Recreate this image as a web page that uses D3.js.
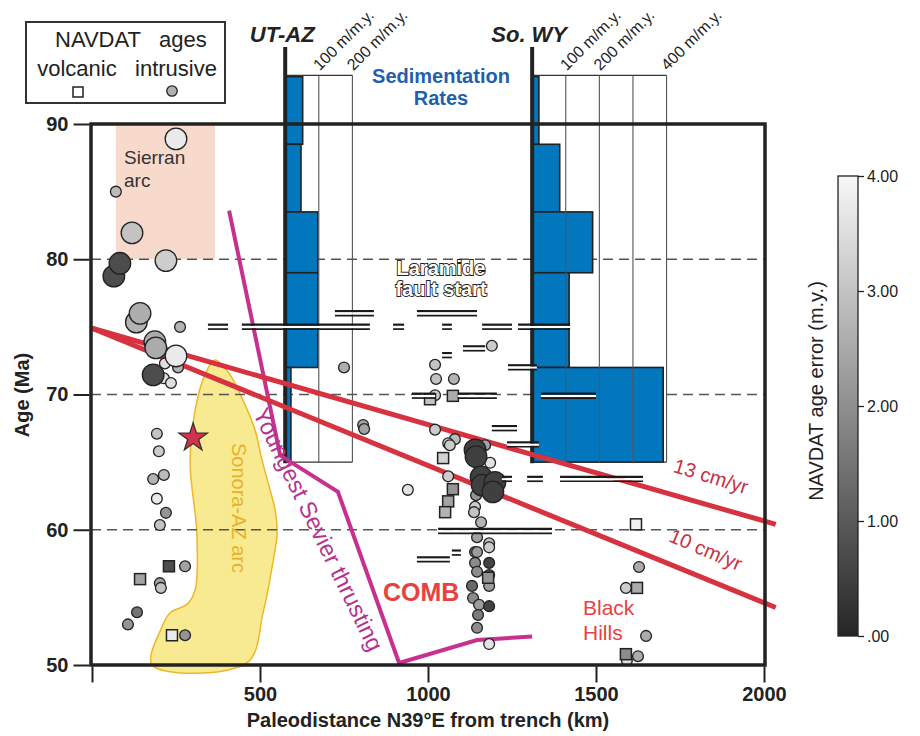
<!DOCTYPE html>
<html>
<head>
<meta charset="utf-8">
<script src="https://cdn.jsdelivr.net/npm/d3@7/dist/d3.min.js"></script>
<style>
  body { margin: 0; background: #fff; }
  svg { font-family: "Liberation Sans", Arial, Helvetica, sans-serif; }
</style>
</head>
<body>
<svg id="chart" width="920" height="736"></svg>
<script>
/* Laramide arc migration: NAVDAT ages vs paleodistance, with sedimentation rates */

// axis ticks
var ageTicks = [50, 60, 70, 80, 90];
var kmTicks = [0, 500, 1000, 1500, 2000];
var errTicks = [0, 1, 2, 3, 4];
var gridAges = [60, 70, 80];

// NAVDAT samples (v = volcanic, i = intrusive)
var ptType = ["i","i","i","i","i","i","i","i","i","i","i","i","i","i","i","i","i","i",
  "i","i","i","i","i","i","i","v","i","v","i","i","i","i","v","i","i","i",
  "i","i","i","i","i","v","v","i","i","i","i","i","i","i","v","i","i","i","i","i","i","i",
  "v","v","v","i","i","i","i","i","i","i","i","i","i","i","i","i","v","i","i","i","i","i","i","i","i",
  "v","i","i","v","i","i","v","i"];
var ptKm = [250,71,119,65,83,220,132,143,262,187,190,250,217,256,182,214,235,750,
  193,199,214,182,193,220,202,229,277,143,202,205,134,107,238,277,807,810,
  1190,1021,1024,1077,1021,1006,1074,1021,1080,1060,1065,1170,1140,1143,1045,1185,1060,1158,1161,1199,1193,940,
  1074,1060,1051,1143,1140,1137,1158,1146,1182,1182,1140,1146,1140,1182,1146,1182,1179,1182,1131,1134,1152,1182,1149,1146,1182,
  1619,1628,1589,1622,1649,1592,1589,1625];
var ptAge = [88.9,85.0,81.95,78.75,79.7,79.9,75.35,76.0,75.0,73.9,73.45,72.85,72.3,72.0,71.45,71.2,70.85,72.0,
  67.1,65.8,64.05,63.75,62.3,61.25,60.35,57.3,57.3,56.35,56.05,55.7,53.9,53.0,52.2,52.2,67.75,67.45,
  73.6,72.2,71.15,71.15,69.95,69.65,69.9,67.4,66.7,66.4,66.25,66.25,65.9,65.4,65.3,64.95,63.95,63.9,63.3,63.5,62.8,62.95,
  63.0,62.1,61.3,62.55,61.7,61.3,60.55,59.45,59.0,58.7,58.35,58.35,57.55,57.55,56.9,56.65,56.45,55.85,55.85,54.95,54.45,54.35,53.7,52.75,51.55,
  60.4,57.25,55.7,55.7,52.15,50.35,50.8,50.65];
var ptErr = [3.75,2.85,3.0,0.75,0.75,3.2,2.7,2.6,2.7,2.55,2.55,3.75,3.55,2.7,0.75,3.55,3.55,2.6,
  3.0,3.15,2.85,2.7,3.75,2.1,3.0,0.75,2.4,2.4,2.4,3.0,1.5,2.1,3.75,2.1,2.4,2.4,
  3.15,3.0,3.0,2.7,3.15,3.0,2.55,3.15,2.85,3.2,3.15,2.4,0.5,0.5,3.3,3.6,3.2,0.5,0.5,0.5,0.5,3.6,
  2.1,2.4,2.7,2.1,3.15,3.0,2.7,2.4,3.0,3.15,1.95,2.25,1.95,0.55,1.95,0.85,2.1,2.25,1.3,1.95,2.25,0.55,1.6,1.95,3.6,
  3.9,2.55,3.2,2.55,2.55,3.55,1.95,2.55];
var ptWeight = [4,1,4,4,4,4,4,4,1,4,4,4,1,1,4,1,1,1,
  1,1,1,1,1,1,1,1,1,1,1,1,1,1,1,1,1,1,
  1,1,1,1,1,1,1,1,1,1,1,1,4,4,1,1,1,4,4,4,4,1,
  1,1,1,1,1,1,1,1,1,1,1,1,1,1,1,1,1,1,1,1,1,1,1,1,1,
  1,1,1,1,1,1,1,1];

// starred sample
var starKm = [301];
var starAge = [66.8];

// detrital / range error bars: age, distance from, distance to
var barAge = [76.0, 76.0, 75.0, 75.0, 75.0, 75.0, 75.0, 75.0, 73.4, 72.9, 72.0, 69.9, 69.9, 69.9, 67.5, 66.3, 63.75, 63.75, 63.75, 59.9, 57.8, 58.3];
var barFrom = [723, 967, 345, 446, 896, 1042, 1161, 1268, 1104, 1042, 1238, 952, 1089, 1336, 1190, 1235, 1220, 1295, 1393, 1030, 967, 1071];
var barTo = [839, 1146, 405, 827, 929, 1071, 1250, 1423, 1170, 1071, 1324, 1021, 1205, 1500, 1265, 1330, 1250, 1342, 1640, 1369, 1065, 1098];

// sedimentation rate histograms (m/m.y.)
var sedTop = [93.5, 88.5, 83.5, 79.0, 72.0];
var sedBottom = [88.5, 83.5, 79.0, 72.0, 65.0];
var utazRate = [52, 47, 97, 97, 17];
var sowyRate = [20, 82, 180, 110, 390];
var utazCols = [100, 200];
var sowyCols = [100, 200, 300, 400];
var utazColLabels = ["100 m/m.y.", "200 m/m.y."];
var sowyColLabels = ["100 m/m.y.", "200 m/m.y.", "", "400 m/m.y."];

// migration rate lines
var line13Km = [0, 2035], line13Age = [74.9, 60.4];
var line10Km = [0, 2035], line10Age = [74.9, 54.25];

// youngest Sevier thrusting front
var sevierKm = [408, 560, 732, 914, 1146, 1310];
var sevierAge = [83.6, 65.5, 62.8, 50.15, 51.85, 52.1];

// Sonora-AZ arc outline
var arcKm = [366, 411, 449, 485, 506, 530, 545, 551, 536, 509, 461, 179, 208, 232, 283, 307, 312, 292, 307, 336];
var arcAge = [72.55, 71.45, 69.6, 67.4, 65.15, 62.95, 61.45, 59.75, 57.25, 53.85, 50.15, 50, 52.8, 53.85, 54.5, 55.55, 59.75, 64.95, 68.85, 71.45];

// Sierran arc box
var sierraKm = [71, 366], sierraAge = [80, 90];

var svg = d3.select("#chart");

var x = d3.scaleLinear().domain([0, 2000]).range([92, 764]);
var y = d3.scaleLinear().domain([50, 90]).range([665, 124]);
var rate = d3.scaleLinear().domain([0, 400]).range([0, x(400) - x(0)]);
var grey = d3.scaleLinear().domain([0, 4]).range(["#262626", "#f7f7f7"]);
var rad = d3.scaleSqrt().domain([0, 4]).range([0, 10.8]);

var plotL = 91, plotR = 765, plotT = 124, plotB = 665;

// Sierran arc
svg.append("rect")
  .attr("x", x(sierraKm[0])).attr("y", y(sierraAge[1]))
  .attr("width", x(sierraKm[1]) - x(sierraKm[0]))
  .attr("height", y(sierraAge[0]) - y(sierraAge[1]))
  .attr("fill", "#f8dacd");
svg.append("text").attr("x", 124).attr("y", 164).attr("font-size", 19).attr("fill", "#333").text("Sierran");
svg.append("text").attr("x", 124).attr("y", 187).attr("font-size", 19).attr("fill", "#333").text("arc");

// Sonora-AZ arc
svg.append("path")
  .attr("d", d3.line().curve(d3.curveCatmullRomClosed)(arcKm.map(function(k, i) { return [x(k), y(arcAge[i])]; })))
  .attr("fill", "#f8ea90").attr("stroke", "#efb728").attr("stroke-width", 1.5);

// dashed age grid
svg.selectAll(".grid").data(gridAges).enter().append("line")
  .attr("x1", plotL).attr("x2", plotR)
  .attr("y1", function(d) { return y(d); }).attr("y2", function(d) { return y(d); })
  .attr("stroke", "#555").attr("stroke-width", 1.3).attr("stroke-dasharray", "10,6");

svg.append("text").attr("transform", "translate(232,508) rotate(90)")
  .attr("text-anchor", "middle").attr("font-size", 20).attr("fill", "#eab22a").text("Sonora-AZ arc");

// sedimentation panels
function sedPanel(baseKm, rates, cols, colLabels, title) {
  var bx = x(baseKm);
  var g = svg.append("g");
  g.selectAll("rect.sed").data(rates).enter().append("rect")
    .attr("x", bx).attr("y", function(d, i) { return y(sedTop[i]); })
    .attr("width", function(d) { return rate(d); })
    .attr("height", function(d, i) { return y(sedBottom[i]) - y(sedTop[i]); })
    .attr("fill", "#0277bd").attr("stroke", "#222").attr("stroke-width", 1.6);
  var y0 = y(93.6), y1 = y(65);
  g.append("line").attr("x1", bx).attr("x2", bx + rate(d3.max(cols)))
    .attr("y1", y0).attr("y2", y0).attr("stroke", "#333").attr("stroke-width", 1.2);
  g.append("line").attr("x1", bx).attr("x2", bx + rate(d3.max(cols)))
    .attr("y1", y1).attr("y2", y1).attr("stroke", "#333").attr("stroke-width", 1.2);
  g.selectAll("line.col").data(cols).enter().append("line")
    .attr("x1", function(d) { return bx + rate(d); }).attr("x2", function(d) { return bx + rate(d); })
    .attr("y1", y0).attr("y2", y1).attr("stroke", "#555").attr("stroke-width", 1.1);
  g.selectAll("text.col").data(cols).enter().append("text")
    .attr("transform", function(d) { return "translate(" + (bx + rate(d) + 1) + "," + (y0 - 4) + ") rotate(-45)"; })
    .attr("font-size", 16).attr("fill", "#222")
    .text(function(d, i) { return colLabels[i]; });
  g.append("line").attr("x1", bx).attr("x2", bx).attr("y1", y(95.7)).attr("y2", y1 + 1)
    .attr("stroke", "#222").attr("stroke-width", 4);
  g.append("text").attr("x", bx - 3).attr("y", 42).attr("text-anchor", "middle")
    .attr("font-size", 22).attr("font-weight", "bold").attr("font-style", "italic").attr("fill", "#222").text(title);
}
sedPanel(575, utazRate, utazCols, utazColLabels, "UT-AZ");
sedPanel(1310, sowyRate, sowyCols, sowyColLabels, "So. WY");

svg.append("text").attr("x", 441).attr("y", 83).attr("text-anchor", "middle").attr("font-size", 20)
  .attr("font-weight", "bold").attr("fill", "#1f5fae").text("Sedimentation");
svg.append("text").attr("x", 441).attr("y", 105).attr("text-anchor", "middle").attr("font-size", 20)
  .attr("font-weight", "bold").attr("fill", "#1f5fae").text("Rates");

// Sevier thrust front
svg.append("path")
  .attr("d", d3.line()(sevierKm.map(function(k, i) { return [x(k), y(sevierAge[i])]; })))
  .attr("fill", "none").attr("stroke", "#c7308d").attr("stroke-width", 4);
svg.append("text").attr("transform", "translate(311,533) rotate(64)")
  .attr("text-anchor", "middle").attr("font-size", 23.5).attr("fill", "#b3338e").text("Youngest Sevier thrusting");

// migration rate lines
[[line13Km, line13Age], [line10Km, line10Age]].forEach(function(l) {
  svg.append("line")
    .attr("x1", x(l[0][0])).attr("y1", y(l[1][0]))
    .attr("x2", x(l[0][1])).attr("y2", y(l[1][1]))
    .attr("stroke", "#d6323f").attr("stroke-width", 5);
});
svg.append("text").attr("transform", "translate(709,483) rotate(17)")
  .attr("text-anchor", "middle").attr("font-size", 20).attr("fill", "#c9313f").text("13 cm/yr");
svg.append("text").attr("transform", "translate(703,556) rotate(23)")
  .attr("text-anchor", "middle").attr("font-size", 20).attr("fill", "#c9313f").text("10 cm/yr");

// NAVDAT points
var pts = ptKm.map(function(k, i) {
  return { type: ptType[i], km: k, age: ptAge[i], err: ptErr[i], w: ptWeight[i] };
});
var circles = pts.filter(function(d) { return d.type === "i"; })
  .sort(function(a, b) { return a.w - b.w; });
var squares = pts.filter(function(d) { return d.type === "v"; });

svg.selectAll("circle.pt").data(circles).enter().append("circle")
  .attr("cx", function(d) { return x(d.km); })
  .attr("cy", function(d) { return y(d.age); })
  .attr("r", function(d) { return rad(d.w); })
  .attr("fill", function(d) { return grey(d.err); })
  .attr("stroke", "#222").attr("stroke-width", 1.3);

svg.selectAll("rect.pt").data(squares).enter().append("rect")
  .attr("x", function(d) { return x(d.km) - 5.5; })
  .attr("y", function(d) { return y(d.age) - 5.5; })
  .attr("width", 11).attr("height", 11)
  .attr("fill", function(d) { return grey(d.err); })
  .attr("stroke", "#222").attr("stroke-width", 1.5);

svg.selectAll("path.star").data(starKm).enter().append("path")
  .attr("transform", function(d, i) { return "translate(" + x(d) + "," + y(starAge[i]) + ")"; })
  .attr("d", d3.symbol().type(d3.symbolStar).size(250))
  .attr("fill", "#d2334a").attr("stroke", "#333").attr("stroke-width", 1.3);

// error bars (double lines)
var bars = svg.selectAll("g.bar").data(barAge).enter().append("g");
bars.append("line").attr("x1", function(d, i) { return x(barFrom[i]); }).attr("x2", function(d, i) { return x(barTo[i]); })
  .attr("y1", function(d) { return y(d) - 2.2; }).attr("y2", function(d) { return y(d) - 2.2; })
  .attr("stroke", "#1a1a1a").attr("stroke-width", 2.2);
bars.append("line").attr("x1", function(d, i) { return x(barFrom[i]); }).attr("x2", function(d, i) { return x(barTo[i]); })
  .attr("y1", function(d) { return y(d) + 0.2; }).attr("y2", function(d) { return y(d) + 0.2; })
  .attr("stroke", "#fff").attr("stroke-width", 2);
bars.append("line").attr("x1", function(d, i) { return x(barFrom[i]); }).attr("x2", function(d, i) { return x(barTo[i]); })
  .attr("y1", function(d) { return y(d) + 2.2; }).attr("y2", function(d) { return y(d) + 2.2; })
  .attr("stroke", "#1a1a1a").attr("stroke-width", 1.7);

// annotations
svg.append("text").attr("x", 441).attr("y", 275).attr("text-anchor", "middle").attr("font-size", 20)
  .attr("font-weight", "bold").attr("fill", "#fff").attr("stroke", "#222").attr("stroke-width", 1.8)
  .attr("paint-order", "stroke").text("Laramide");
svg.append("text").attr("x", 441).attr("y", 296).attr("text-anchor", "middle").attr("font-size", 20)
  .attr("font-weight", "bold").attr("fill", "#fff").attr("stroke", "#222").attr("stroke-width", 1.8)
  .attr("paint-order", "stroke").text("fault start");
svg.append("text").attr("x", 383).attr("y", 601).attr("font-size", 25).attr("font-weight", "bold")
  .attr("fill", "#e8423f").text("COMB");
svg.append("text").attr("x", 583).attr("y", 615).attr("font-size", 21).attr("fill", "#e8423f").text("Black");
svg.append("text").attr("x", 583).attr("y", 640).attr("font-size", 21).attr("fill", "#e8423f").text("Hills");

// frame
svg.append("rect").attr("x", plotL).attr("y", plotT).attr("width", plotR - plotL).attr("height", plotB - plotT)
  .attr("fill", "none").attr("stroke", "#222").attr("stroke-width", 3.5);

// axes
var yAxis = svg.append("g").attr("transform", "translate(" + (plotL - 1.5) + ",0)")
  .call(d3.axisLeft(y).tickValues(ageTicks).tickSize(16).tickPadding(5));
var xAxis = svg.append("g").attr("transform", "translate(0," + (plotB + 1.5) + ")")
  .call(d3.axisBottom(x).tickValues(kmTicks).tickSize(16).tickPadding(4)
    .tickFormat(function(d) { return d === 0 ? "" : d; }));
[yAxis, xAxis].forEach(function(a) {
  a.select(".domain").remove();
  a.selectAll("line").attr("stroke", "#222").attr("stroke-width", 2);
  a.selectAll("text").attr("font-size", 20).attr("font-weight", "bold").attr("fill", "#222")
    .attr("font-family", "Liberation Sans, Arial, sans-serif");
});

svg.append("text").attr("x", 428).attr("y", 727).attr("text-anchor", "middle").attr("font-size", 20)
  .attr("font-weight", "bold").attr("fill", "#222").text("Paleodistance N39°E from trench (km)");
svg.append("text").attr("transform", "translate(29,395) rotate(-90)").attr("text-anchor", "middle")
  .attr("font-size", 20).attr("font-weight", "bold").attr("fill", "#222").text("Age (Ma)");

// legend
svg.append("rect").attr("x", 26).attr("y", 22).attr("width", 199).attr("height", 81)
  .attr("fill", "#fff").attr("stroke", "#333").attr("stroke-width", 2);
svg.append("text").attr("x", 55).attr("y", 47).attr("font-size", 22).attr("fill", "#222").text("NAVDAT");
svg.append("text").attr("x", 159).attr("y", 47).attr("font-size", 22).attr("fill", "#222").text("ages");
svg.append("text").attr("x", 77).attr("y", 76).attr("text-anchor", "middle").attr("font-size", 22).attr("fill", "#222").text("volcanic");
svg.append("text").attr("x", 176).attr("y", 76).attr("text-anchor", "middle").attr("font-size", 22).attr("fill", "#222").text("intrusive");
svg.append("rect").attr("x", 73).attr("y", 87).attr("width", 10).attr("height", 10)
  .attr("fill", "#fff").attr("stroke", "#222").attr("stroke-width", 1.5);
svg.append("circle").attr("cx", 172).attr("cy", 91).attr("r", 5.2)
  .attr("fill", "#b0b0b0").attr("stroke", "#222").attr("stroke-width", 1.3);

// colour bar
var cb = d3.scaleLinear().domain([0, 4]).range([636, 176]);
var grad = svg.append("defs").append("linearGradient").attr("id", "errGrad")
  .attr("x1", 0).attr("y1", 1).attr("x2", 0).attr("y2", 0);
errTicks.forEach(function(t) {
  grad.append("stop").attr("offset", t / 4).attr("stop-color", grey(t));
});
svg.append("rect").attr("x", 838).attr("y", 176).attr("width", 20).attr("height", 460)
  .attr("fill", "url(#errGrad)").attr("stroke", "#222").attr("stroke-width", 1.3);
var cAxis = svg.append("g").attr("transform", "translate(858,0)")
  .call(d3.axisRight(cb).tickValues(errTicks).tickSize(6).tickPadding(3)
    .tickFormat(function(d) { return d === 0 ? ".00" : d.toFixed(2); }));
cAxis.select(".domain").remove();
cAxis.selectAll("line").attr("stroke", "#222").attr("stroke-width", 1.3);
cAxis.selectAll("text").attr("font-size", 16).attr("fill", "#222").attr("font-family", "Liberation Sans, Arial, sans-serif");
svg.append("text").attr("transform", "translate(823,391) rotate(-90)").attr("text-anchor", "middle")
  .attr("font-size", 20).attr("fill", "#222").text("NAVDAT age error (m.y.)");
</script>
</body>
</html>
